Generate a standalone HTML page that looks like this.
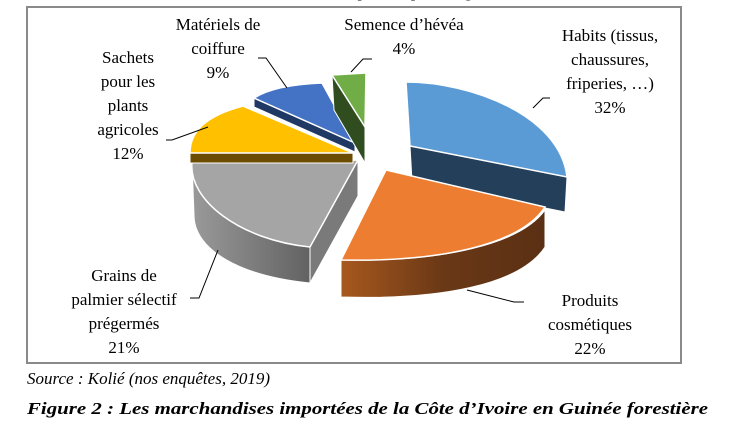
<!DOCTYPE html>
<html><head><meta charset="utf-8"><style>
html,body{margin:0;padding:0;background:#fff;}
svg{display:block;}
text{font-family:"Liberation Serif",serif;font-size:17px;fill:#000;}
</style></head><body>
<svg width="740" height="426" viewBox="0 0 740 426" xmlns="http://www.w3.org/2000/svg">
<defs>
<linearGradient id="og" x1="0" x2="1" y1="0" y2="0"><stop offset="0" stop-color="#a8581e"/><stop offset="0.5" stop-color="#6a3816"/><stop offset="1" stop-color="#5a3014"/></linearGradient>
<linearGradient id="gg" x1="0" x2="1" y1="0" y2="0"><stop offset="0" stop-color="#9a9a9a"/><stop offset="1" stop-color="#626262"/></linearGradient>
</defs>
<text x="370" y="-3" text-anchor="middle">Marchandises importées par catégorie</text>
<rect x="27" y="7" width="654" height="356" fill="#fff" stroke="#8a8a8a" stroke-width="2"/>

<path d="M410,146 L567,177 L565,212 L412,181 Z" fill="#243f5a" stroke="#fff" stroke-width="1"/>
<path d="M410,146 L406,82 C470,82 560,115 567,177 Z" fill="#5b9bd5" stroke="#fff" stroke-width="1.5"/>

<path d="M545,210 C520,245 440,262 341,260 L341,297 C440,300 520,285 545,247 Z" fill="url(#og)" stroke="#fff" stroke-width="1"/>
<path d="M386,170 L545,207 C520,245 440,262 341,260 Z" fill="#ed7d31" stroke="#fff" stroke-width="1.5"/>

<path d="M192,162 C188,200 240,240 310,247 L310,283 C240,276 194,250 194,215 Z" fill="url(#gg)" stroke="#fff" stroke-width="1"/>
<path d="M358,160 L310,247 L310,283 L358,196 Z" fill="#7a7a7a" stroke="#fff" stroke-width="1"/>
<path d="M358,160 L192,162 C188,200 240,240 310,247 Z" fill="#a5a5a5" stroke="#fff" stroke-width="1.5"/>

<path d="M190,153 L353,153 L353,163 L190,163 Z" fill="#6b4c00" stroke="#fff" stroke-width="1"/>
<path d="M353,153 L190,153 C190,132 205,116 243,106 Z" fill="#ffc000" stroke="#fff" stroke-width="1.5"/>

<path d="M254,98 L355,143 L355,152 L254,107 Z" fill="#1f3864" stroke="#fff" stroke-width="1"/>
<path d="M355,143 L254,98 C270,88 295,84 322,83 Z" fill="#4472c4" stroke="#fff" stroke-width="1.5"/>

<path d="M332,75 L365,127 L365,163 L334,110 Z" fill="#2f4d1e" stroke="#fff" stroke-width="1"/>
<path d="M332,75 L366,73 L365,127 Z" fill="#70ad47" stroke="#fff" stroke-width="1.5"/>

<g fill="none" stroke="#000" stroke-width="1">
<polyline points="258,58 266,58 287,88"/>
<polyline points="372,59 363,59 351,72"/>
<polyline points="550,98 543,98 533,108"/>
<polyline points="166,140 172,140 208,127"/>
<polyline points="190,298 199,298 218,250"/>
<polyline points="524,302 514,302 467,290"/>
</g>

<g text-anchor="middle">
<text x="218" y="30">Matériels de</text>
<text x="218" y="54">coiffure</text>
<text x="218" y="78">9%</text>
<text x="404" y="30">Semence d’hévéa</text>
<text x="404" y="54">4%</text>
<text x="610" y="41">Habits (tissus,</text>
<text x="610" y="65">chaussures,</text>
<text x="610" y="89">friperies, …)</text>
<text x="610" y="113">32%</text>
<text x="128" y="63">Sachets</text>
<text x="128" y="87">pour les</text>
<text x="128" y="111">plants</text>
<text x="128" y="135">agricoles</text>
<text x="128" y="159">12%</text>
<text x="124" y="281">Grains de</text>
<text x="124" y="305">palmier sélectif</text>
<text x="124" y="329">prégermés</text>
<text x="124" y="353">21%</text>
<text x="590" y="306">Produits</text>
<text x="590" y="330">cosmétiques</text>
<text x="590" y="354">22%</text>
</g>
<text x="27" y="384" font-style="italic">Source : Kolié (nos enquêtes, 2019)</text>
<text x="27" y="414" font-style="italic" font-weight="bold" font-size="18" textLength="681" lengthAdjust="spacingAndGlyphs">Figure 2 : Les marchandises importées de la Côte d’Ivoire en Guinée forestière</text>
</svg>
</body></html>
